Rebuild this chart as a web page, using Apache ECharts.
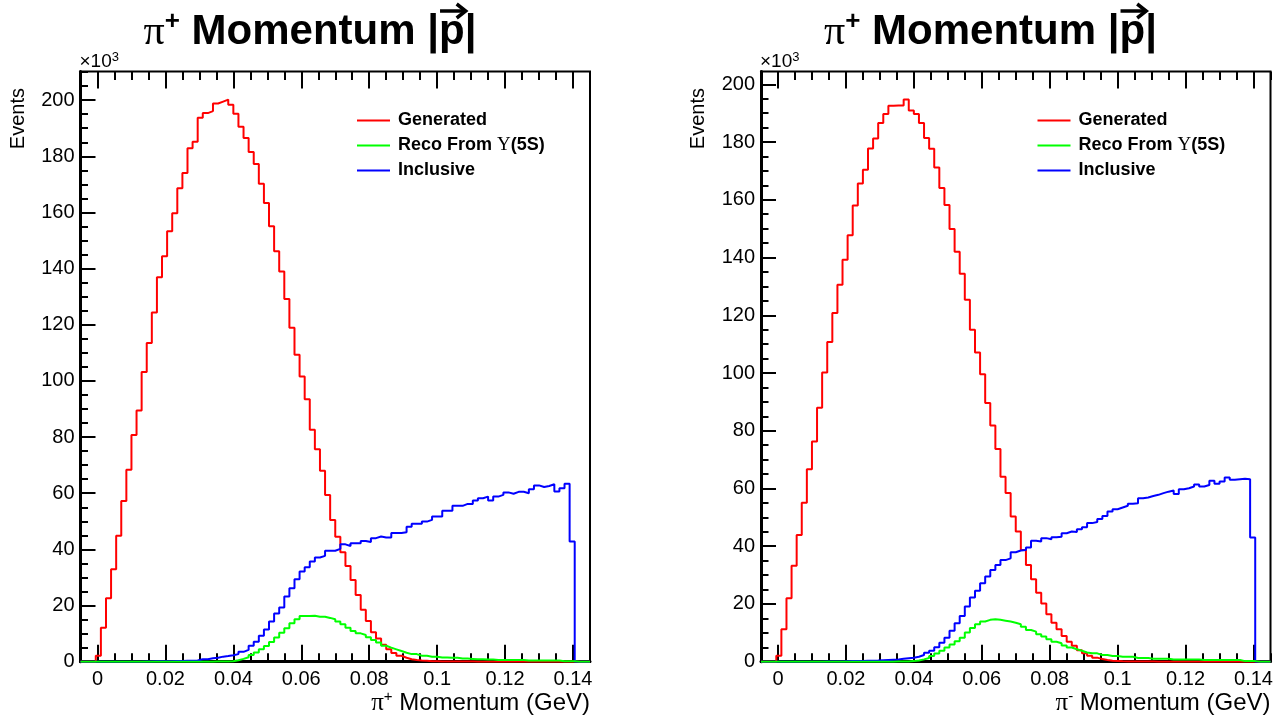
<!DOCTYPE html>
<html>
<head>
<meta charset="utf-8">
<script src="https://cdn.jsdelivr.net/npm/echarts@6/dist/echarts.min.js"></script>
<style>
  html, body { margin: 0; padding: 0; background: #fff; }
  #chart { width: 1287px; height: 720px; }
</style>
</head>
<body>
<div id="chart"></div>
<script>
// 100 bins from -0.005 to 0.145 GeV, contents in units of 10^3 events
var binLow = -0.005, binWidth = 0.0015, nBins = 100;
var binEdges = [];
for (var i = 0; i <= nBins; i++) binEdges.push(binLow + i * binWidth);

// pi+ (left pad)
var genPlus = [
  0, 0, 0, 2.1, 12.1, 22.6, 32.9, 44.9, 57.2, 68.4,
  80.7, 89.5, 103.2, 113.5, 124.4, 136.9, 144.4, 153.3, 159.7, 168.6,
  174.1, 182.9, 185.2, 193.7, 195.4, 196.1, 198.8, 199.5, 200.2, 198.4,
  195.2, 190.5, 186.5, 181.5, 177.3, 170.2, 163.4, 155.1, 146.2, 139.0,
  129.2, 118.9, 109.3, 101.6, 93.5, 82.6, 75.7, 68.0, 59.4, 50.5,
  44.5, 39.0, 34.1, 29.1, 23.8, 18.5, 14.5, 10.5, 8.3, 6.0,
  4.4, 3.1, 2.1, 1.4, 0.9, 0.6, 0.4, 0.3, 0.2, 0.15,
  0.1, 0.08, 0.06, 0.05, 0.04, 0.03, 0.03, 0.02, 0.02, 0.01,
  0, 0, 0, 0, 0, 0, 0, 0, 0, 0,
  0, 0, 0, 0, 0, 0, 0, 0, 0, 0
];
var recoPlus = [
  0, 0, 0, 0, 0, 0, 0, 0, 0, 0,
  0, 0, 0, 0, 0, 0, 0, 0, 0, 0,
  0, 0, 0, 0, 0, 0, 0.05, 0.05, 0.1, 0.2,
  0.5, 1.0, 1.6, 2.4, 3.3, 4.4, 5.6, 7.0, 8.6, 10.3,
  11.9, 13.7, 15.1, 16.3, 16.3, 16.4, 16.0, 16.0, 15.6, 15.1,
  14.3, 13.3, 12.1, 10.9, 10.1, 9.5, 8.7, 7.7, 6.8, 5.7,
  5.0, 4.4, 3.8, 3.2, 2.7, 2.7, 2.1, 2.1, 1.8, 1.8,
  1.5, 1.5, 1.4, 1.4, 1.1, 1.1, 1.0, 0.9, 0.9, 0.8,
  0.8, 0.6, 0.6, 0.6, 0.6, 0.6, 0.6, 0.4, 0.4, 0.4,
  0.4, 0.4, 0.4, 0.4, 0.2, 0.2, 0.2, 0, 0, 0
];
var inclPlus = [
  0, 0, 0, 0, 0, 0, 0, 0, 0, 0,
  0, 0, 0.1, 0.1, 0.15, 0.15, 0.2, 0.2, 0.25, 0.25,
  0.3, 0.3, 0.4, 0.9, 0.9, 1.2, 1.4, 1.8, 2.0, 2.3,
  2.7, 3.5, 4.2, 5.7, 7.1, 9.2, 11.5, 14.3, 17.2, 19.3,
  23.2, 26.2, 29.4, 32.1, 33.6, 35.7, 37.1, 37.7, 39.5, 39.5,
  40.2, 41.8, 41.2, 42.2, 42.2, 43.0, 42.6, 44.0, 44.6, 44.2,
  44.2, 45.8, 45.8, 46.1, 48.1, 49.1, 49.1, 49.9, 50.5, 51.7,
  51.7, 53.8, 53.8, 55.5, 55.5, 56.2, 56.2, 57.4, 58.2, 58.8,
  57.4, 58.8, 59.4, 60.3, 59.8, 60.5, 60.5, 60.0, 61.4, 62.8,
  62.2, 62.6, 63.2, 60.6, 61.8, 63.4, 42.8, 0, 0, 0
];

// pi- (right pad)
var genMinus = [
  0, 0, 0, 2.1, 11.2, 22.0, 33.2, 43.9, 55.1, 66.7,
  76.3, 88.0, 100.2, 110.7, 120.8, 130.6, 139.2, 147.7, 158.0, 165.6,
  170.4, 177.8, 181.2, 186.6, 189.7, 192.6, 192.7, 192.7, 194.7, 190.9,
  189.7, 186.6, 181.4, 177.7, 171.2, 164.1, 158.2, 149.9, 142.0, 134.4,
  125.4, 115.0, 107.1, 99.6, 89.6, 81.8, 73.7, 64.1, 58.4, 50.3,
  45.1, 38.7, 33.5, 28.6, 23.9, 20.2, 16.4, 13.5, 11.2, 8.9,
  6.9, 5.5, 4.0, 2.9, 2.1, 1.4, 0.9, 0.6, 0.35, 0.25,
  0.15, 0.1, 0.05, 0.05, 0.04, 0.03, 0.03, 0.02, 0.02, 0.01,
  0, 0, 0, 0, 0, 0, 0, 0, 0, 0,
  0, 0, 0, 0, 0, 0, 0, 0, 0, 0
];
var recoMinus = [
  0, 0, 0, 0, 0, 0, 0, 0, 0, 0,
  0, 0, 0, 0, 0, 0, 0, 0, 0, 0,
  0, 0, 0, 0, 0, 0, 0.05, 0.05, 0.1, 0.2,
  0.4, 0.8, 1.3, 2.0, 2.8, 3.8, 4.9, 6.0, 7.1, 8.3,
  10.1, 11.7, 13.0, 13.9, 14.5, 14.7, 14.5, 14.2, 13.9, 13.5,
  13.0, 12.1, 11.0, 10.4, 9.5, 8.7, 7.8, 6.9, 6.4, 5.6,
  4.9, 4.3, 3.8, 3.2, 2.9, 2.9, 2.3, 2.3, 2.0, 2.0,
  1.7, 1.7, 1.7, 1.3, 1.3, 1.3, 1.0, 1.0, 1.0, 1.0,
  0.8, 0.8, 0.8, 0.8, 0.8, 0.8, 0.6, 0.6, 0.6, 0.6,
  0.6, 0.6, 0.6, 0.6, 0.2, 0.2, 0.2, 0, 0, 0
];
var inclMinus = [
  0, 0, 0, 0, 0, 0, 0, 0, 0, 0,
  0, 0, 0.05, 0.05, 0.1, 0.1, 0.15, 0.2, 0.2, 0.25,
  0.3, 0.35, 0.4, 0.5, 0.6, 0.7, 0.8, 1.0, 1.2, 1.4,
  1.7, 2.3, 3.1, 3.8, 5.0, 6.6, 8.3, 10.7, 13.3, 15.8,
  19.1, 22.2, 24.6, 27.2, 29.5, 31.8, 33.5, 35.2, 35.8, 37.9,
  38.5, 38.7, 39.6, 41.9, 41.6, 42.8, 42.4, 43.1, 43.3, 44.5,
  45.1, 44.9, 45.9, 46.6, 48.0, 48.4, 49.4, 50.5, 52.0, 52.8,
  53.4, 54.0, 54.7, 54.9, 56.6, 56.9, 57.4, 57.8, 58.4, 58.9,
  59.3, 58.1, 59.7, 60.1, 60.7, 61.4, 60.7, 61.2, 62.7, 61.6,
  62.4, 63.8, 63.0, 63.2, 63.4, 63.2, 43.0, 0, 0, 0
];

var seriesNames = ['Generated', 'Reco From \u03a5(5S)', 'Inclusive'];
var seriesColors = ['#ff0000', '#00ff00', '#0000ff'];

// tick positions
var xMajor = [0, 0.02, 0.04, 0.06, 0.08, 0.1, 0.12, 0.14];
var xMinor = [];
for (var i = 0; i <= 30; i++) xMinor.push(+(-0.005 + i * 0.005).toFixed(3));
var yMajor = [0, 20, 40, 60, 80, 100, 120, 140, 160, 180, 200];
var yMinorAll = [];
for (var i = 0; i <= 42; i++) yMinorAll.push(i * 5);

var SANS = '"Liberation Sans", Arial, Helvetica, sans-serif';
var SERIF = '"Liberation Serif", "Times New Roman", serif';

var pads = [
  { left: 80.5, gen: genPlus, reco: recoPlus, incl: inclPlus, sign: '+' },
  { left: 761, gen: genMinus, reco: recoMinus, incl: inclMinus, sign: '-' }
];
var frameTop = 71.5, frameW = 509.5, frameH = 590.2;

function toSteps(values) {
  var out = [];
  for (var k = 0; k < values.length; k++) out.push([binEdges[k], values[k]]);
  out.push([binEdges[nBins], values[values.length - 1]]);
  return out;
}

var grids = [], xAxes = [], yAxes = [], series = [], legends = [], graphics = [];

function xAxisDef(p, pos, ticks, len, main) {
  return {
    gridIndex: p, type: 'value', position: pos, min: -0.005, max: 0.145,
    axisLine: { show: main, onZero: false, lineStyle: { color: '#000', width: 3 } },
    splitLine: { show: false },
    axisTick: { inside: true, length: len, customValues: ticks, lineStyle: { color: '#000', width: 2 } },
    axisLabel: main ? {
      customValues: xMajor, color: '#000', fontSize: 20, fontFamily: SANS, margin: 8,
      formatter: function (v) { return String(+(+v).toFixed(3)); }
    } : { show: false }
  };
}

pads.forEach(function (pad, p) {
  var yMax = Math.max.apply(null, pad.gen) * 1.05; // ROOT-like top margin
  var yMinor = yMinorAll.filter(function (v) { return v <= yMax; });
  grids.push({ left: pad.left, top: frameTop, width: frameW, height: frameH,
    show: true, borderColor: '#000', borderWidth: 2, backgroundColor: 'transparent' });

  var xi = xAxes.length;
  xAxes.push(xAxisDef(p, 'bottom', xMajor, 17, true));
  xAxes.push(xAxisDef(p, 'bottom', xMinor, 8.5, false));
  xAxes.push(xAxisDef(p, 'top', xMajor, 17, false));
  xAxes.push(xAxisDef(p, 'top', xMinor, 8.5, false));

  var yi = yAxes.length;
  yAxes.push({
    gridIndex: p, type: 'value', min: 0, max: yMax, position: 'left',
    axisLine: { show: true, onZero: false, lineStyle: { color: '#000', width: 3 } },
    splitLine: { show: false },
    axisTick: { inside: true, length: 15, customValues: yMajor, lineStyle: { color: '#000', width: 2 } },
    axisLabel: { customValues: yMajor, color: '#000', fontSize: 20, fontFamily: SANS, margin: 6 }
  });
  yAxes.push({
    gridIndex: p, type: 'value', min: 0, max: yMax, position: 'left',
    axisLine: { show: false, onZero: false }, splitLine: { show: false },
    axisTick: { inside: true, length: 7.5, customValues: yMinor, lineStyle: { color: '#000', width: 2 } },
    axisLabel: { show: false }
  });

  [pad.gen, pad.incl, pad.reco].forEach(function (vals, j) {
    var idx = [0, 2, 1][j];
    series.push({
      name: seriesNames[idx], type: 'line', step: 'end', symbol: 'none',
      xAxisIndex: xi, yAxisIndex: yi, data: toSteps(vals), animation: false,
      color: seriesColors[idx], lineStyle: { color: seriesColors[idx], width: 2 },
      z: 3 + j
    });
  });

  legends.push({
    data: seriesNames, left: pad.left + 276.5, top: 111, orient: 'vertical',
    itemWidth: 33, itemHeight: 2, itemGap: 6, icon: 'rect', padding: 0,
    selectedMode: false,
    formatter: function (name) { return name.replace('\u03a5', '{u|\u03a5}'); },
    textStyle: {
      fontFamily: SANS, fontWeight: 'bold', fontSize: 18, color: '#000', lineHeight: 19,
      padding: [0, 0, 0, 3],
      rich: { u: { fontFamily: SERIF, fontWeight: 'normal', fontSize: 19, color: '#000' } }
    }
  });

  // x axis title, right aligned to frame end
  graphics.push({
    type: 'text', x: pad.left + frameW, y: 703,
    style: {
      text: '{pi|\u03c0}{sup|' + pad.sign + '}{t| Momentum (GeV)}',
      align: 'right', textAlign: 'right', verticalAlign: 'middle', textVerticalAlign: 'middle',
      rich: {
        pi: { fontFamily: SERIF, fontSize: 25, lineHeight: 28, fill: '#000', color: '#000' },
        sup: { fontFamily: SANS, fontSize: 15, lineHeight: 15, verticalAlign: 'top', fill: '#000', color: '#000' },
        t: { fontFamily: SANS, fontSize: 24, lineHeight: 28, fill: '#000', color: '#000' }
      }
    }
  });
  // y axis title
  graphics.push({
    type: 'text', x: 18 + pad.left - 80.5, y: 88, rotation: Math.PI / 2,
    style: { text: 'Events', font: '20px ' + SANS, fill: '#000',
      align: 'right', textAlign: 'right', verticalAlign: 'middle', textVerticalAlign: 'middle' }
  });
  // x10^3 exponent
  graphics.push({
    type: 'text', x: pad.left - 1, y: 62,
    style: {
      text: '{a|\u00d710}{s|3}', align: 'left', textAlign: 'left',
      verticalAlign: 'middle', textVerticalAlign: 'middle',
      rich: {
        a: { fontFamily: SANS, fontSize: 19, lineHeight: 22, fill: '#000', color: '#000' },
        s: { fontFamily: SANS, fontSize: 13, lineHeight: 13, verticalAlign: 'top', fill: '#000', color: '#000' }
      }
    }
  });
  // pad title (both pads carry the same title in the original)
  buildTitle(pad.left + 229.5, 32).forEach(function (g) { graphics.push(g); });
});

function buildTitle(cx, midY) {
  var ctx = document.createElement('canvas').getContext('2d');
  var F = 42;
  var bold = 'bold ' + F + 'px ' + SANS;
  var parts = [
    { t: '\u03c0', font: F + 'px ' + SERIF, dy: 1 },
    { t: '+', font: 'bold ' + Math.round(F * 0.62) + 'px ' + SANS, dy: -F * 0.24 },
    { t: ' Momentum |', font: bold, dy: 0 },
    { t: 'p', font: bold, dy: 0, arrow: true },
    { t: '|', font: bold, dy: 0 }
  ];
  var total = 0;
  parts.forEach(function (pt) { ctx.font = pt.font; pt.w = ctx.measureText(pt.t).width; total += pt.w; });
  var x = cx - total / 2, out = [];
  parts.forEach(function (pt) {
    out.push({ type: 'text', x: x, y: midY + pt.dy,
      style: { text: pt.t, font: pt.font, fill: '#000', align: 'left', textAlign: 'left',
        verticalAlign: 'middle', textVerticalAlign: 'middle' } });
    if (pt.arrow) {
      var ay = midY - F * 0.5, x1 = x + 1, x2 = x + pt.w + 1;
      out.push({ type: 'polyline', shape: { points: [[x1, ay], [x2, ay]] },
        style: { stroke: '#000', lineWidth: 3.5, fill: null } });
      out.push({ type: 'polyline', shape: { points: [[x2 - 9, ay - 7], [x2, ay], [x2 - 9, ay + 7]] },
        style: { stroke: '#000', lineWidth: 3.5, fill: null, lineJoin: 'miter' } });
    }
    x += pt.w;
  });
  return out;
}

var chart = echarts.init(document.getElementById('chart'), null, { renderer: 'canvas' });
chart.setOption({
  backgroundColor: '#fff',
  animation: false,
  grid: grids,
  xAxis: xAxes,
  yAxis: yAxes,
  legend: legends,
  series: series,
  graphic: graphics
});
</script>
</body>
</html>
